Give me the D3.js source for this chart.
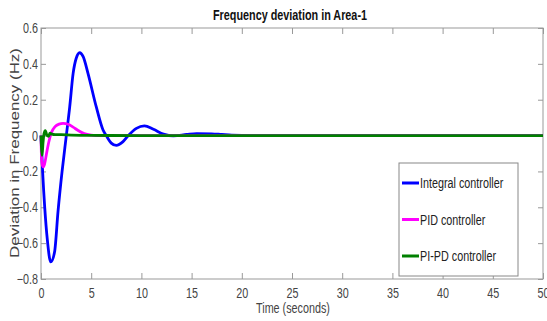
<!DOCTYPE html>
<html>
<head>
<meta charset="utf-8">
<script src="https://cdn.jsdelivr.net/npm/d3@7"></script>
<style>
  body { margin: 0; background: #fff; }
  text { font-family: "Liberation Sans", Arial, sans-serif; }
</style>
</head>
<body>
<svg id="chart" width="547" height="321"></svg>
<script>
// data
const integralT = [0, 0.17, 0.37, 0.63, 0.97, 1.35, 1.7, 2.1, 2.5, 2.86, 3.2, 3.5, 3.85, 4.2, 4.68, 5.5, 6.18, 6.5, 7.0, 7.5, 8.17, 8.7, 9.5, 10.3, 11.2, 12.2, 13.2, 14.5, 15.5, 17.0, 18.0, 19.0, 21, 50];
const integralV = [0, -0.21, -0.40, -0.58, -0.705, -0.65, -0.42, -0.20, -0.01, 0.16, 0.347, 0.43, 0.462, 0.44, 0.347, 0.161, 0.031, 0, -0.042, -0.055, -0.034, 0, 0.04, 0.054, 0.035, 0.008, -0.002, 0.006, 0.011, 0.01, 0.006, 0.002, 0, 0];

const pidT = [0, 0.05, 0.12, 0.22, 0.35, 0.55, 0.8, 1.05, 1.4, 1.8, 2.2, 2.7, 3.2, 3.7, 4.3, 5.0, 6.0, 50];
const pidV = [0, -0.12, -0.16, -0.175, -0.16, -0.10, -0.03, 0.018, 0.05, 0.064, 0.068, 0.063, 0.047, 0.028, 0.011, 0.003, 0, 0];

const pipdT = [0, 0.04, 0.1, 0.2, 0.3, 0.43, 0.6, 0.75, 0.9, 1.1, 1.4, 2, 3, 5, 10, 50];
const pipdV = [0, -0.06, -0.11, -0.04, 0.01, 0.028, 0.0, -0.004, 0.013, 0.008, 0.005, 0.005, 0.003, 0.001, 0, 0];

const seriesNames = ["Integral controller", "PID controller", "PI-PD controller"];
const seriesColors = ["#0000ff", "#ff00ff", "#008000"];

const xTicks = [0, 5, 10, 15, 20, 25, 30, 35, 40, 45, 50];
const yTicks = [-0.8, -0.6, -0.4, -0.2, 0, 0.2, 0.4, 0.6];

const svg = d3.select("#chart");
const plotLeft = 41, plotRight = 543, plotTop = 28, plotBottom = 279;

const x = d3.scaleLinear().domain([0, 50]).range([plotLeft, plotRight]);
const y = d3.scaleLinear().domain([-0.8, 0.6]).range([plotBottom, plotTop]);

const axisColor = "#999";
const labelColor = "#444";

// squeeze text to look like a narrow font
function narrow(sel, k) {
  sel.each(function () {
    const w = this.getComputedTextLength();
    d3.select(this).attr("textLength", w * k).attr("lengthAdjust", "spacingAndGlyphs");
  });
}

// frame
svg.append("rect")
  .attr("x", plotLeft).attr("y", plotTop)
  .attr("width", plotRight - plotLeft).attr("height", plotBottom - plotTop)
  .attr("fill", "none").attr("stroke", axisColor).attr("stroke-width", 1);

// ticks, pointing inward on all four sides
const fmt = d => d === 0 ? "0" : d3.format(".1f")(d);

svg.append("g").attr("transform", "translate(0," + plotBottom + ")")
  .call(d3.axisBottom(x).tickValues(xTicks).tickSize(-6).tickPadding(9).tickFormat(d3.format("d")))
  .call(g => g.select(".domain").remove());
svg.append("g").attr("transform", "translate(0," + plotTop + ")")
  .call(d3.axisTop(x).tickValues(xTicks).tickSize(-6).tickFormat(""))
  .call(g => g.select(".domain").remove());
svg.append("g").attr("transform", "translate(" + plotLeft + ",0)")
  .call(d3.axisLeft(y).tickValues(yTicks).tickSize(-5).tickPadding(3).tickFormat(fmt))
  .call(g => g.select(".domain").remove());
svg.append("g").attr("transform", "translate(" + plotRight + ",0)")
  .call(d3.axisRight(y).tickValues(yTicks).tickSize(-5).tickFormat(""))
  .call(g => g.select(".domain").remove());

svg.selectAll(".tick line").attr("stroke", axisColor);
svg.selectAll(".tick text")
  .attr("fill", labelColor)
  .style("font-family", '"Liberation Sans", Arial, sans-serif')
  .style("font-size", "14px")
  .call(narrow, 0.77);

// lines
const line = d3.line()
  .x(d => x(d[0]))
  .y(d => y(d[1]))
  .curve(d3.curveMonotoneX);

const series = [
  d3.zip(integralT, integralV),
  d3.zip(pidT, pidV),
  d3.zip(pipdT, pipdV)
];

const plot = svg.append("g");
series.forEach((s, i) => {
  plot.append("path")
    .datum(s)
    .attr("fill", "none")
    .attr("stroke", seriesColors[i])
    .attr("stroke-width", 2.8)
    .attr("stroke-linejoin", "round")
    .attr("d", line);
});

// title and axis labels
svg.append("text")
  .attr("x", 290).attr("y", 20)
  .attr("text-anchor", "middle")
  .style("font-size", "14px").style("font-weight", "bold")
  .attr("fill", "#111")
  .attr("textLength", 154)
  .attr("lengthAdjust", "spacingAndGlyphs")
  .text("Frequency deviation in Area-1");

svg.append("text")
  .attr("x", 293).attr("y", 313)
  .attr("text-anchor", "middle")
  .style("font-size", "14px")
  .attr("fill", labelColor)
  .text("Time (seconds)")
  .call(narrow, 0.77);

svg.append("text")
  .attr("transform", "translate(19,153) rotate(-90)")
  .attr("text-anchor", "middle")
  .style("font-size", "13px")
  .attr("textLength", 210)
  .attr("lengthAdjust", "spacingAndGlyphs")
  .attr("fill", labelColor)
  .text("Deviation in Frequency (Hz)");

// legend
const legend = svg.append("g");
legend.append("rect")
  .attr("x", 399).attr("y", 163)
  .attr("width", 119).attr("height", 113)
  .attr("fill", "#fff").attr("stroke", "#888").attr("stroke-width", 1);

const legendY = d3.scalePoint().domain(seriesNames).range([183, 256]);
seriesNames.forEach((name, i) => {
  const yy = legendY(name);
  legend.append("line")
    .attr("x1", 402).attr("x2", 419)
    .attr("y1", yy).attr("y2", yy)
    .attr("stroke", seriesColors[i]).attr("stroke-width", 3);
  legend.append("text")
    .attr("x", 420).attr("y", yy + 5)
    .style("font-size", "14px")
    .attr("fill", "#222")
    .text(name)
    .call(narrow, 0.77);
});
</script>
</body>
</html>
